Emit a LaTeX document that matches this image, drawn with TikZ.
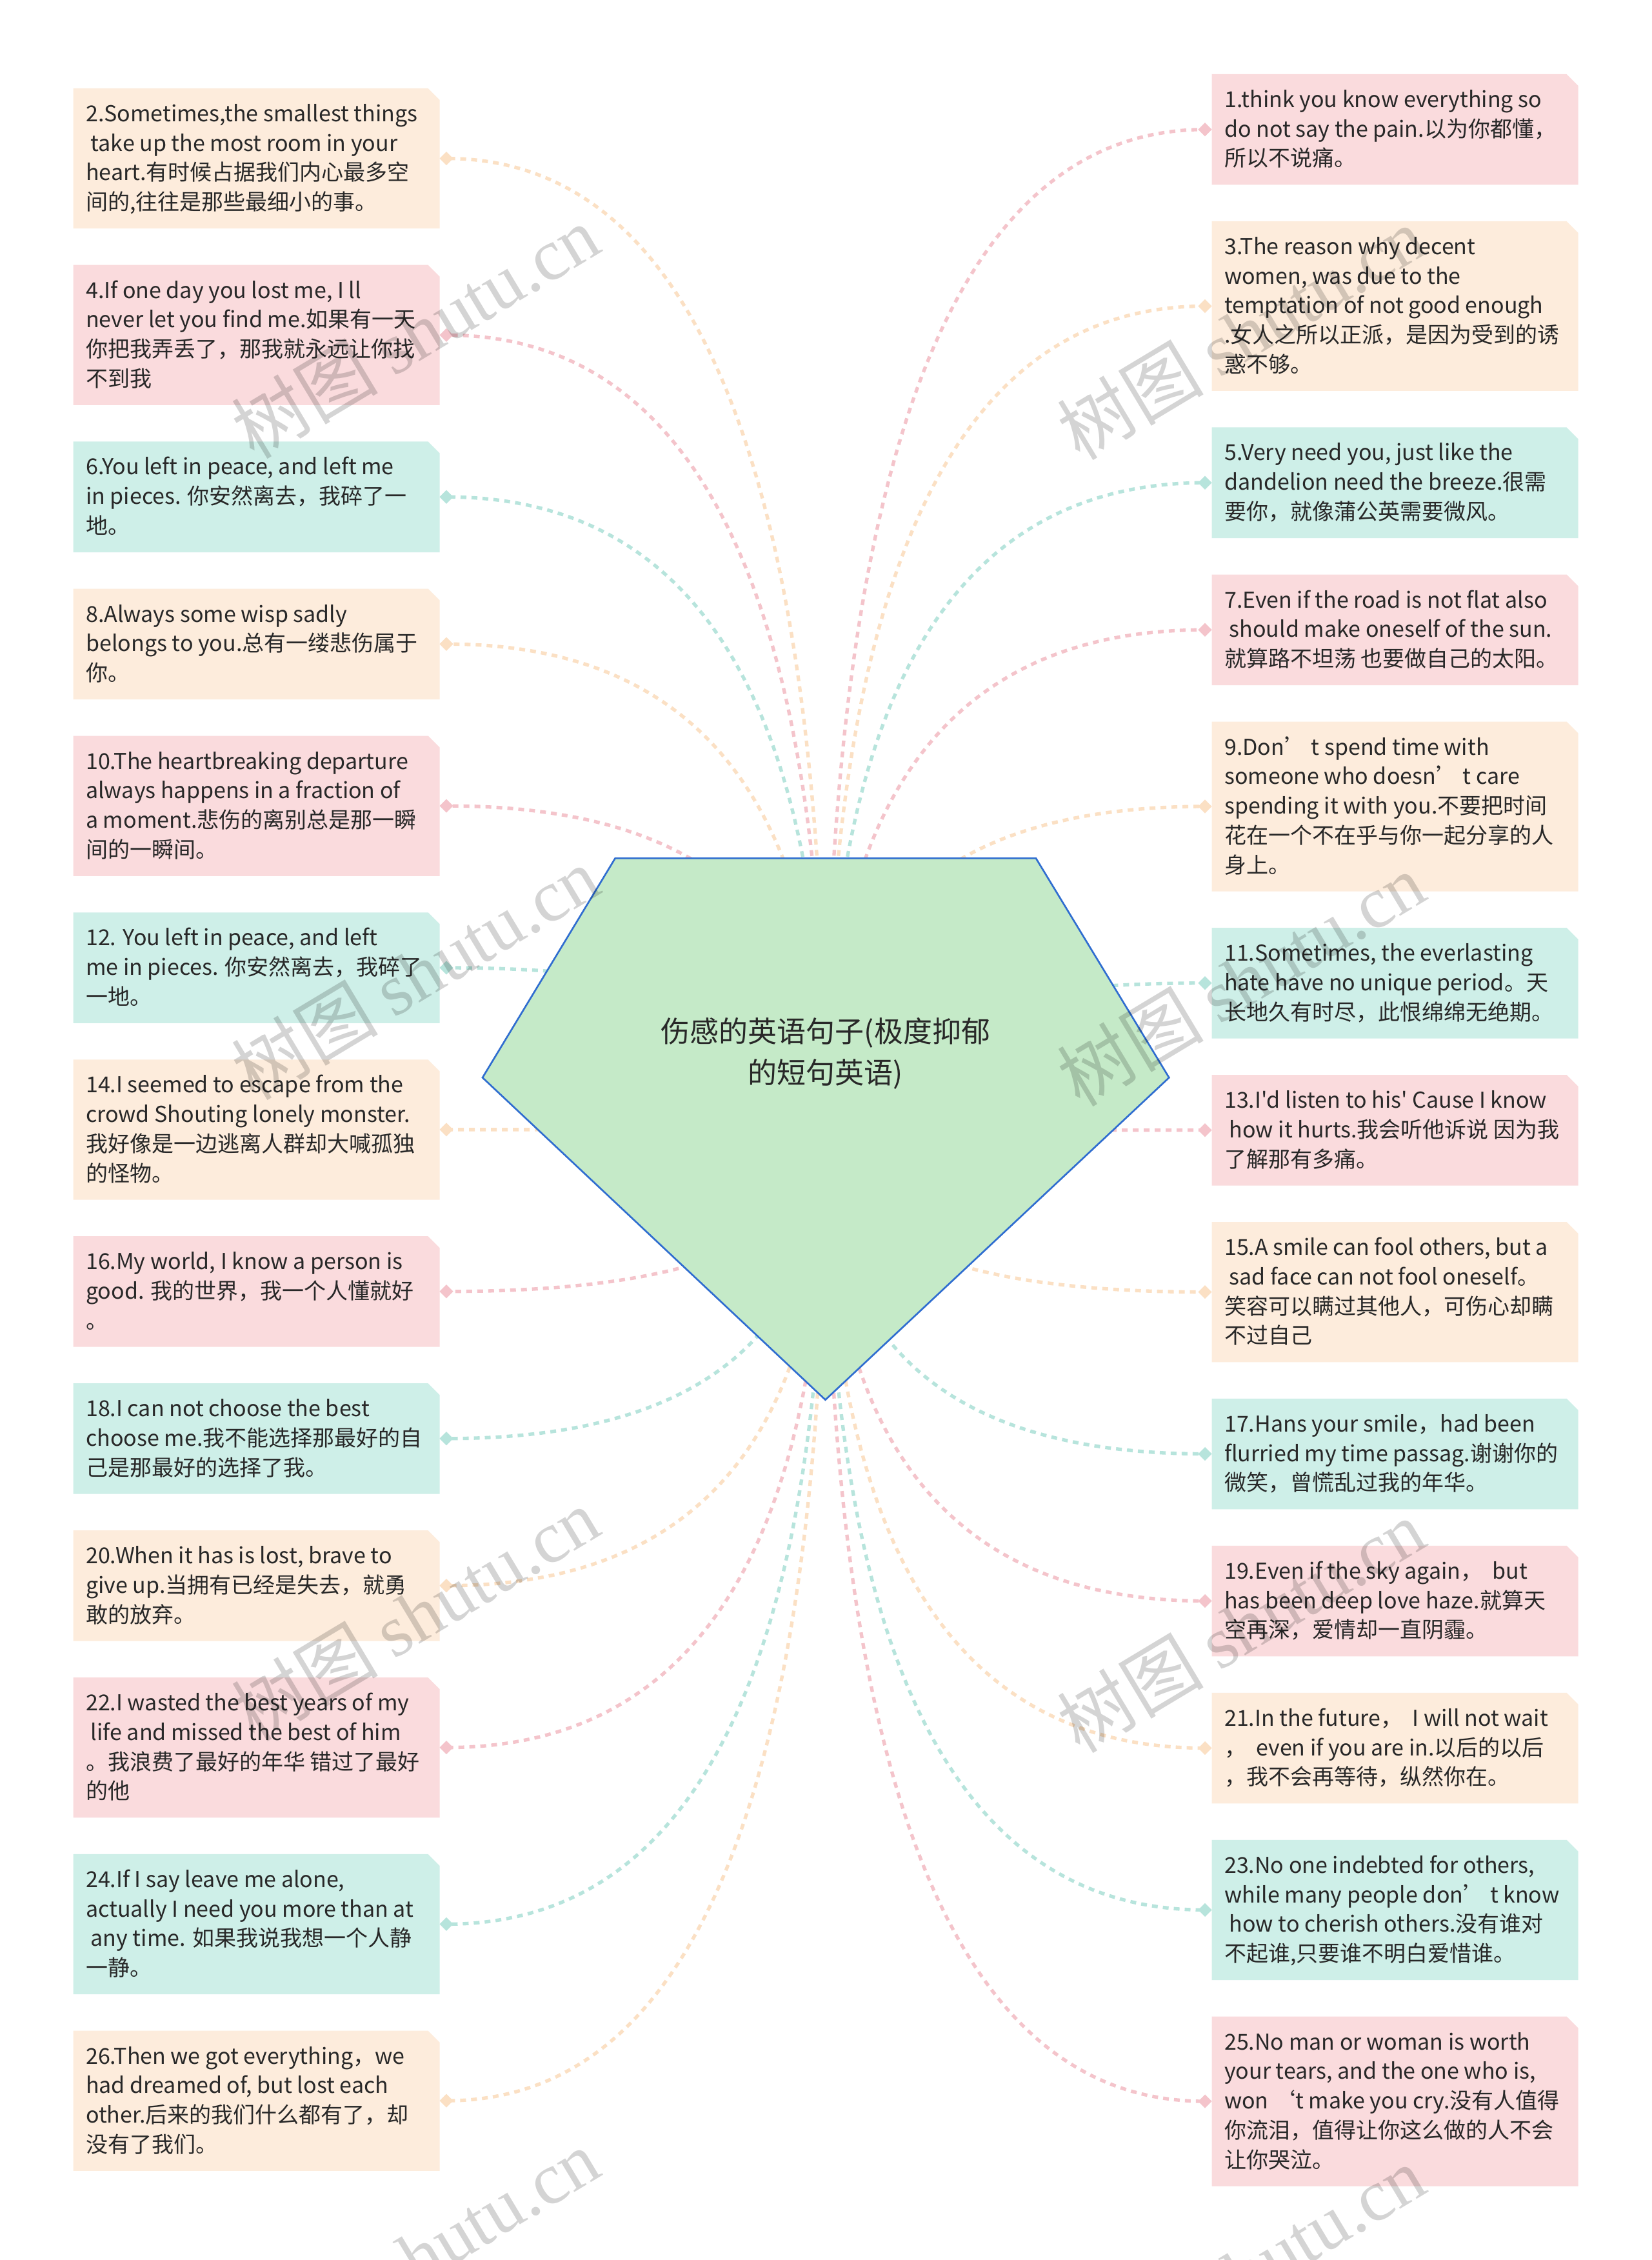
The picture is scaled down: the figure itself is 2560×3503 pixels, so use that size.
\documentclass[tikz,border=0pt]{standalone}
\usepackage{fontspec}
\setmainfont{Noto Sans CJK SC}[Ligatures=TeXOff]
\newfontfamily\wmserif{Liberation Serif}
\usetikzlibrary{calc,shapes.geometric}
\pgfdeclarelayer{bg}\pgfdeclarelayer{conn}\pgfdeclarelayer{fg}
\pgfsetlayers{bg,conn,main,fg}
\definecolor{pinkfill}{RGB}{250,219,221}
\definecolor{orangefill}{RGB}{253,236,220}
\definecolor{tealfill}{RGB}{206,239,232}
\definecolor{pinkline}{RGB}{244,196,203}
\definecolor{orangeline}{RGB}{251,224,196}
\definecolor{tealline}{RGB}{183,228,220}
\definecolor{textc}{RGB}{40,40,40}
\definecolor{rootfill}{RGB}{197,234,200}
\definecolor{rootline}{RGB}{47,109,208}

% #1 name, #2 side L/R, #3 top, #4 number of lines, #5 colour, #6 text
\newcommand\qbox[6]{%
  \pgfmathsetmacro\bt{#3}%
  \pgfmathsetmacro\bb{#3+34.25+45.75*#4}%
  \pgfmathsetmacro\bm{(\bt+\bb)/2}%
  \if#2L\def\xa{113.5}\def\xb{681.5}\def\xd{692}\else\def\xa{1878.5}\def\xb{2446.5}\def\xd{1868}\fi
  \fill[#5fill] (\xa,\bt) -- ({\xb-18},\bt) -- (\xb,{\bt+18}) -- (\xb,\bb) -- (\xa,\bb) -- cycle;
  \node[txt] (#1) at ({\xa+19},{\bt+51.5}) {\begin{tabular}[t]{@{}l@{}}#6\end{tabular}};
  \node[dia, fill=#5line] (#1d) at (\xd,\bm) {};
  \begin{pgfonlayer}{conn}
  \draw[con, #5line] (hub) .. controls ($(hub)!2/3!(hub|-#1d)$) and ($(#1d)!2/3!(hub|-#1d)$) .. (#1d.center);
  \end{pgfonlayer}
}

\begin{document}
\begin{tikzpicture}[x=0.3pt,y=-0.3pt,
  txt/.style={anchor=base west, inner sep=0pt, text=textc, font=\fontsize{10.2pt}{13.725pt}\selectfont},
  dia/.style={shape=diamond, aspect=1, minimum size=6.5pt, inner sep=0pt, draw=none},
  con/.style={line width=1.6pt, dash pattern=on 2.7pt off 2.4pt},
  wm/.style={rotate=31, text=black, text opacity=0.17, inner sep=0pt, font=\fontsize{34pt}{34pt}\selectfont}]
\useasboundingbox (0,0) rectangle (2560,3503);
\begin{pgfonlayer}{bg}
\fill[white] (0,0) rectangle (2560,3503);
\end{pgfonlayer}
\coordinate (hub) at (1280,1751);

% central pentagon
\filldraw[fill=rootfill, draw=rootline, line width=0.8pt, line join=miter]
  (953.6,1330.4) -- (1606,1330.4) -- (1812.3,1670.3) -- (1279.5,2169.7) -- (748,1670.3) -- cycle;
\node[align=center, text=textc, inner sep=0pt, font=\fontsize{13.5pt}{19pt}\selectfont] (root) at (1280,1633)
  {伤感的英语句子(极度抑郁\\的短句英语)};

% left column
\qbox{b2}{L}{137}{4}{orange}{2.Sometimes,the smallest things\\\ take up the most room in your\\heart.有时候占据我们内心最多空\\间的,往往是那些最细小的事。}
\qbox{b4}{L}{410.75}{4}{pink}{4.If one day you lost me, I ll\\never let you find me.如果有一天\\你把我弄丢了，那我就永远让你找\\不到我}
\qbox{b6}{L}{684.5}{3}{teal}{6.You left in peace, and left me\\in pieces. 你安然离去，我碎了一\\地。}
\qbox{b8}{L}{912.5}{3}{orange}{8.Always some wisp sadly\\belongs to you.总有一缕悲伤属于\\你。}
\qbox{b10}{L}{1140.5}{4}{pink}{10.The heartbreaking departure\\always happens in a fraction of\\a moment.悲伤的离别总是那一瞬\\间的一瞬间。}
\qbox{b12}{L}{1414.25}{3}{teal}{12. You left in peace, and left\\me in pieces. 你安然离去，我碎了\\一地。}
\qbox{b14}{L}{1642.25}{4}{orange}{14.I seemed to escape from the\\crowd Shouting lonely monster.\\我好像是一边逃离人群却大喊孤独\\的怪物。}
\qbox{b16}{L}{1916}{3}{pink}{16.My world, I know a person is\\good. 我的世界，我一个人懂就好\\。}
\qbox{b18}{L}{2144}{3}{teal}{18.I can not choose the best\\choose me.我不能选择那最好的自\\己是那最好的选择了我。}
\qbox{b20}{L}{2372}{3}{orange}{20.When it has is lost, brave to\\give up.当拥有已经是失去，就勇\\敢的放弃。}
\qbox{b22}{L}{2600}{4}{pink}{22.I wasted the best years of my\\\ life and missed the best of him\\。我浪费了最好的年华 错过了最好\\的他}
\qbox{b24}{L}{2873.75}{4}{teal}{24.If I say leave me alone,\\actually I need you more than at\\\ any time. 如果我说我想一个人静\\一静。}
\qbox{b26}{L}{3147.5}{4}{orange}{26.Then we got everything，we\\had dreamed of, but lost each\\other.后来的我们什么都有了，却\\没有了我们。}

% right column
\qbox{b1}{R}{115}{3}{pink}{1.think you know everything so\\do not say the pain.以为你都懂，\\所以不说痛。}
\qbox{b3}{R}{343}{5}{orange}{3.The reason why decent\\women, was due to the\\temptation of not good enough\\.女人之所以正派，是因为受到的诱\\惑不够。}
\qbox{b5}{R}{662.5}{3}{teal}{5.Very need you, just like the\\dandelion need the breeze.很需\\要你，就像蒲公英需要微风。}
\qbox{b7}{R}{890.5}{3}{pink}{7.Even if the road is not flat also\\\ should make oneself of the sun.\\就算路不坦荡 也要做自己的太阳。}
\qbox{b9}{R}{1118.5}{5}{orange}{9.Don’ t spend time with\\someone who doesn’ t care\\spending it with you.不要把时间\\花在一个不在乎与你一起分享的人\\身上。}
\qbox{b11}{R}{1438}{3}{teal}{11.Sometimes, the everlasting\\hate have no unique period。天\\长地久有时尽，此恨绵绵无绝期。}
\qbox{b13}{R}{1666}{3}{pink}{13.I'd listen to his' Cause I know\\\ how it hurts.我会听他诉说 因为我\\了解那有多痛。}
\qbox{b15}{R}{1894}{4}{orange}{15.A smile can fool others, but a\\\ sad face can not fool oneself。\\笑容可以瞒过其他人，可伤心却瞒\\不过自己}
\qbox{b17}{R}{2167.75}{3}{teal}{17.Hans your smile，had been\\flurried my time passag.谢谢你的\\微笑，曾慌乱过我的年华。}
\qbox{b19}{R}{2395.75}{3}{pink}{19.Even if the sky again，\ \ but\\has been deep love haze.就算天\\空再深，爱情却一直阴霾。}
\qbox{b21}{R}{2623.75}{3}{orange}{21.In the future，\ \ I will not wait\\，\ \ even if you are in.以后的以后\\，我不会再等待，纵然你在。}
\qbox{b23}{R}{2851.75}{4}{teal}{23.No one indebted for others,\\while many people don’ t know\\\ how to cherish others.没有谁对\\不起谁,只要谁不明白爱惜谁。}
\qbox{b25}{R}{3125.5}{5}{pink}{25.No man or woman is worth\\your tears, and the one who is,\\won ‘t make you cry.没有人值得\\你流泪，值得让你这么做的人不会\\让你哭泣。}

% watermarks
\begin{pgfonlayer}{fg}
\node[wm] (wm1) at (644,514) {树图 {\wmserif shutu.cn}};
\node[wm] (wm2) at (1924,516) {树图 {\wmserif shutu.cn}};
\node[wm] (wm3) at (644,1508) {树图 {\wmserif shutu.cn}};
\node[wm] (wm4) at (1924,1518) {树图 {\wmserif shutu.cn}};
\node[wm] (wm5) at (644,2502) {树图 {\wmserif shutu.cn}};
\node[wm] (wm6) at (1924,2520) {树图 {\wmserif shutu.cn}};
\node[wm] (wm7) at (644,3496) {树图 {\wmserif shutu.cn}};
\node[wm] (wm8) at (1924,3522) {树图 {\wmserif shutu.cn}};
\end{pgfonlayer}
\end{tikzpicture}
\end{document}
